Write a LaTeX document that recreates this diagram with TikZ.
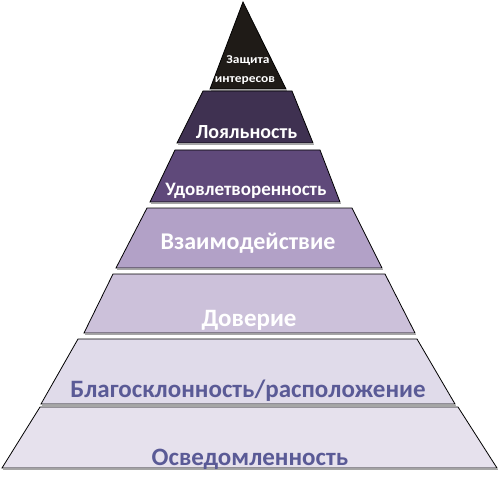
\documentclass[tikz,border=0pt]{standalone}
\usepackage{fontspec}
\setmainfont{Carlito}
\definecolor{cTop}{HTML}{1F1B17}
\definecolor{cLoy}{HTML}{3F3151}
\definecolor{cUdo}{HTML}{5F497A}
\definecolor{cVza}{HTML}{B2A1C7}
\definecolor{cDov}{HTML}{CCC1DA}
\definecolor{cBla}{HTML}{E0DBEA}
\definecolor{cOsv}{HTML}{E6E1ED}
\definecolor{cTxt}{HTML}{5A5A96}
\begin{document}
\begin{tikzpicture}[x=1pt,y=-1pt,
  layer/.style={draw=black, line width=0.8pt, line join=miter},
  shade/.style={draw=gray!70, line width=1.6pt},
  lbl/.style={anchor=base, inner sep=0pt, font=\bfseries},
  toplbl/.style={lbl, text=white, xscale=1.12, font=\bfseries\fontsize{12}{14}\selectfont},
]
\useasboundingbox (0,0) rectangle (500,481);
% shadows
\draw[shade] (211,90.5) -- (287,90.5);
\draw[shade] (178,144.5) -- (314,144.5);
\draw[shade] (151,203.5) -- (341,203.5);
\draw[shade] (117,269.5) -- (383,269.5);
\draw[shade] (85,334.5) -- (416,334.5);
\draw[shade] (42,405.5) -- (456,405.5);
\draw[shade] (3,469.5) -- (498,469.5);
% layers
\draw[layer, fill=cOsv] (40,407) -- (458,407) -- (497,468) -- (2,468) -- cycle;
\draw[layer, fill=cBla] (78,339) -- (417,339) -- (455,404) -- (41,404) -- cycle;
\draw[layer, fill=cDov] (113,274) -- (385,274) -- (415,333) -- (84,333) -- cycle;
\draw[layer, fill=cVza] (147,208) -- (352,208) -- (382,268) -- (116,268) -- cycle;
\draw[layer, fill=cUdo] (175,150) -- (320,150) -- (340,202) -- (150,202) -- cycle;
\draw[layer, fill=cLoy] (203,91) -- (292,91) -- (313,143) -- (177,143) -- cycle;
\draw[layer, fill=cTop] (243,2) -- (286,89) -- (210,89) -- cycle;
% labels
\node[toplbl] (t1) at (248,63.3) {Защита};
\node[toplbl] (t2) at (245,83) {интересов};
\node[lbl, text=white, font=\bfseries\fontsize{20}{24}\selectfont] (loy) at (246.5,138.3) {Лояльность};
\node[lbl, text=white, font=\bfseries\fontsize{19}{22}\selectfont] (udo) at (246,195) {Удовлетворенность};
\node[lbl, text=white, font=\bfseries\fontsize{24}{28}\selectfont] (vza) at (248,249.3) {Взаимодействие};
\node[lbl, text=white, font=\bfseries\fontsize{25}{29}\selectfont] (dov) at (249,326.7) {Доверие};
\node[lbl, text=cTxt, font=\bfseries\fontsize{25}{29}\selectfont] (bla) at (248,397.3) {Благосклонность/расположение};
\node[lbl, text=cTxt, font=\bfseries\fontsize{25}{29}\selectfont] (osv) at (250,465.7) {Осведомленность};
\end{tikzpicture}
\end{document}
